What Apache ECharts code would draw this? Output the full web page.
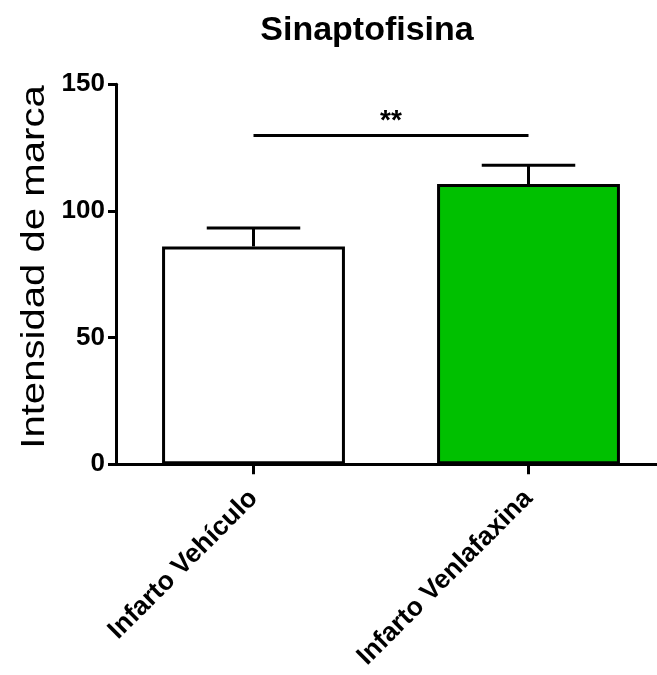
<!DOCTYPE html>
<html>
<head>
<meta charset="utf-8">
<script src="https://cdn.jsdelivr.net/npm/echarts@6/dist/echarts.min.js"></script>
<style>
  html, body { margin: 0; padding: 0; background: #fff; }
  #chart { width: 657px; height: 675px; }
</style>
</head>
<body>
<div id="chart"></div>
<script>
// Group labels, bar means and standard errors
const categories = ['Infarto Vehículo', 'Infarto Venlafaxina'];
const means = [86, 110.6];
const sems = [7.3, 7.4];
const barColors = ['#ffffff', '#00c000'];
// Significance bracket height and label
const sigLevel = 130;
const sigLabel = '**';
const yTicks = [0, 50, 100, 150];
const yTitle = 'Intensidad de marca';

const FONT = '"Liberation Sans", Arial, Helvetica, sans-serif';

const chart = echarts.init(document.getElementById('chart'), null, { renderer: 'canvas' });

const option = {
  animation: false,
  backgroundColor: '#ffffff',
  title: {
    text: 'Sinaptofisina',
    left: 362,
    top: 9,
    textAlign: 'center',
    textStyle: { fontFamily: FONT, fontSize: 34, fontWeight: 'bold', color: '#000' }
  },
  // plot area runs past the right edge so the x axis line reaches the border
  grid: {
    left: 116, width: 550, top: 84.3, bottom: 210.7,
    containLabel: false, outerBoundsMode: 'none'
  },
  // vertical axis title, drawn as text stretched along its reading direction
  graphic: [{
    type: 'text',
    x: 35, y: 267,
    rotation: Math.PI / 2,
    scaleX: 1.18,
    style: {
      text: yTitle,
      fontFamily: FONT, fontSize: 34, fill: '#000',
      align: 'center', verticalAlign: 'middle'
    }
  }],
  xAxis: {
    type: 'category',
    data: categories,
    boundaryGap: true,
    axisLine: { show: true, lineStyle: { color: '#000', width: 3 } },
    axisTick: { show: true, alignWithLabel: true, length: 10, lineStyle: { color: '#000', width: 3 } },
    axisLabel: {
      rotate: 45, margin: 30, interval: 0,
      fontFamily: FONT, fontSize: 26.5, fontWeight: 'bold', color: '#000'
    },
    splitLine: { show: false }
  },
  yAxis: {
    type: 'value',
    min: yTicks[0],
    max: yTicks[yTicks.length - 1],
    interval: 50,
    axisLine: { show: true, lineStyle: { color: '#000', width: 3 } },
    axisTick: { show: true, length: 8, lineStyle: { color: '#000', width: 3 } },
    axisLabel: { margin: 11, fontFamily: FONT, fontSize: 26, fontWeight: 'bold', color: '#000' },
    splitLine: { show: false }
  },
  series: [
    {
      type: 'bar',
      barWidth: '66.5%',
      data: means.map((v, i) => ({
        value: v,
        itemStyle: { color: barColors[i], borderColor: '#000', borderWidth: 3 }
      })),
      z: 2,
      markLine: {
        silent: true,
        symbol: 'none',
        lineStyle: { color: '#000', width: 3, type: 'solid' },
        label: {
          show: true, position: 'middle', formatter: sigLabel, distance: 0,
          fontFamily: FONT, fontSize: 28, fontWeight: 'bold', color: '#000'
        },
        data: [[{ coord: [0, sigLevel] }, { coord: [1, sigLevel] }]]
      }
    },
    {
      // error bars: stem from bar top to mean + SEM, with a horizontal cap
      type: 'custom',
      z: 3,
      data: means.map((v, i) => [i, v, v + sems[i]]),
      renderItem: function (params, api) {
        const x = api.value(0);
        const top = api.coord([x, api.value(1)]);
        const hi = api.coord([x, api.value(2)]);
        const band = api.size([1, 0])[0];
        const half = band * 0.17;
        const style = { stroke: '#000', lineWidth: 3 };
        return {
          type: 'group',
          children: [
            { type: 'line', shape: { x1: top[0], y1: top[1], x2: hi[0], y2: hi[1] }, style: style },
            { type: 'line', shape: { x1: hi[0] - half, y1: hi[1], x2: hi[0] + half, y2: hi[1] }, style: style }
          ]
        };
      }
    }
  ]
};

chart.setOption(option);
</script>
</body>
</html>
